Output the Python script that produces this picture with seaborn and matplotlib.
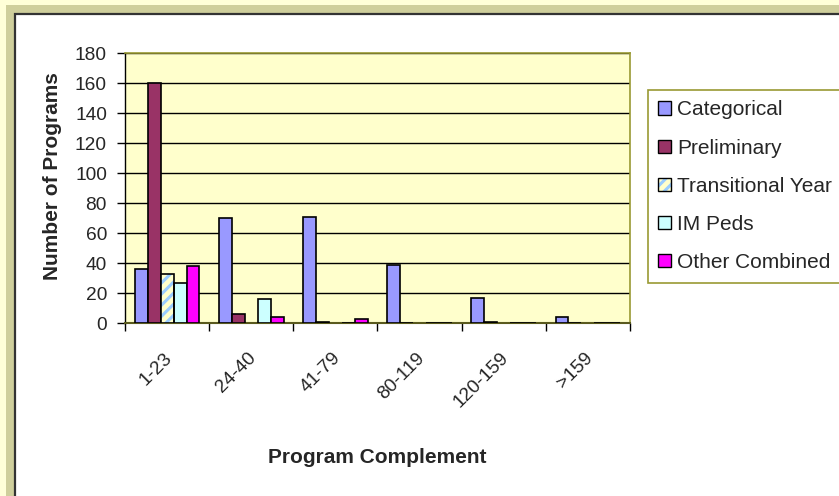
import matplotlib
matplotlib.use("Agg")
import matplotlib.pyplot as plt
import matplotlib.transforms as mtransforms
import numpy as np
import pandas as pd
import seaborn as sns
from matplotlib.patches import Patch, Rectangle

categories = ["1-23", "24-40", "41-79", "80-119", "120-159", ">159"]
series_names = ["Categorical", "Preliminary", "Transitional Year", "IM Peds", "Other Combined"]
categorical = [36, 70, 71, 39, 17, 4]
preliminary = [160, 6, 1, 0, 1, 0]
transitional_year = [33, 0, 0, 0, 0, 0]
im_peds = [27, 16, 0, 0, 0, 0]
other_combined = [38, 4, 3, 0, 0, 0]
y_ticks = [0, 20, 40, 60, 80, 100, 120, 140, 160, 180]

colors = ["#9999ff", "#993366", "#ffffcc", "#ccffff", "#ff00ff"]

sns.set_style("white")
plt.rcParams["font.family"] = ["Liberation Sans", "DejaVu Sans"]
plt.rcParams["hatch.linewidth"] = 2.2

df = pd.DataFrame({
    "Program Complement": categories * 5,
    "Series": [s for s in series_names for _ in categories],
    "Programs": categorical + preliminary + transitional_year + im_peds + other_combined,
})

W, H = 839, 496
fig = plt.figure(figsize=(W / 100, H / 100), dpi=100)
fig.patch.set_facecolor("#ffffd8")

# outer frame: khaki band and dark inner border, running off the right/bottom edge
fig.patches.append(Rectangle((6 / W, -0.1), 1.2, (H - 5) / H + 0.1, transform=fig.transFigure,
                             facecolor="#cfcf9c", edgecolor="none", zorder=-3))
fig.patches.append(Rectangle((15 / W, -0.1), 1.2, (H - 14) / H + 0.1, transform=fig.transFigure,
                             facecolor="white", edgecolor="#333333", linewidth=1.6, zorder=-2))

ax = fig.add_axes([125 / W, 1 - 323 / H, 505 / W, 270 / H])
ax.set_facecolor("#ffffcc")

sns.barplot(data=df, x="Program Complement", y="Programs", hue="Series",
            hue_order=series_names, order=categories, palette=colors, saturation=1,
            width=0.77, gap=0, edgecolor="black", linewidth=1.2, legend=False, ax=ax, zorder=3)

# transitional year bars get a diagonal stripe fill
n = len(categories)
ty_bars = ax.patches[2 * n:3 * n]
for bar in ty_bars:
    bar.set_hatch("///")
    bar.set_edgecolor("#99ccff")
    bar.set_linewidth(0)
    if bar.get_height() > 0:
        ax.add_patch(Rectangle((bar.get_x(), bar.get_y()), bar.get_width(), bar.get_height(),
                               fill=False, edgecolor="black", linewidth=1.2, zorder=4))

ax.set_ylim(0, 180)
ax.set_xlim(-0.5, n - 0.5)
ax.set_yticks(y_ticks)
ax.yaxis.grid(True, color="black", linewidth=1.0, zorder=0)
ax.set_axisbelow(True)

ax.set_xticks(np.arange(-0.5, n, 1.0))
ax.set_xticklabels([])
ax.set_xticks(np.arange(n), minor=True)
ax.set_xticklabels(categories, minor=True, rotation=45, ha="right", va="top", fontsize=13.8)
ax.tick_params(axis="x", which="major", direction="out", length=6, width=1, color="black", bottom=True)
ax.tick_params(axis="x", which="minor", length=0, pad=19)
ax.tick_params(axis="y", direction="out", length=6, width=1, color="black", left=True,
               labelsize=13.8, pad=7)
offset = mtransforms.ScaledTranslation(8 / 100, 0, fig.dpi_scale_trans)
for lbl in ax.get_xticklabels(minor=True):
    lbl.set_transform(lbl.get_transform() + offset)

ax.set_xlabel("")
ax.set_ylabel("")
for side in ["top", "right"]:
    ax.spines[side].set_color("#999933")
    ax.spines[side].set_linewidth(1.2)
ax.spines["bottom"].set_color("#5a5a1e")
ax.spines["bottom"].set_linewidth(1.5)
ax.spines["left"].set_color("black")
ax.spines["left"].set_linewidth(1.0)
for sp in ax.spines.values():
    sp.set_visible(True)

fig.text(58 / W, 1 - 176 / H, "Number of Programs", rotation=90, rotation_mode="anchor",
         ha="center", va="baseline", fontsize=15, fontweight="bold")
fig.text(377.5 / W, 1 - 463 / H, "Program Complement", ha="center", va="baseline",
         fontsize=15, fontweight="bold")

handles = []
for name, c in zip(series_names, colors):
    if name == "Transitional Year":
        handles.append((Patch(facecolor="#ffffcc", edgecolor="#99ccff", hatch="///", linewidth=0),
                        Patch(fill=False, edgecolor="black", linewidth=1.0)))
    else:
        handles.append(Patch(facecolor=c, edgecolor="black", linewidth=1.0))
leg = fig.legend(handles, series_names, loc="upper left", bbox_to_anchor=(648 / W, 1 - 90 / H),
                 fontsize=15, frameon=True, fancybox=False, framealpha=1, edgecolor="#999933",
                 handlelength=0.6, handleheight=0.6, handletextpad=0.3, labelspacing=0.92,
                 borderpad=0.5, borderaxespad=0)
leg.get_frame().set_linewidth(1.2)

fig.savefig("out.png", dpi=100, facecolor=fig.get_facecolor())
